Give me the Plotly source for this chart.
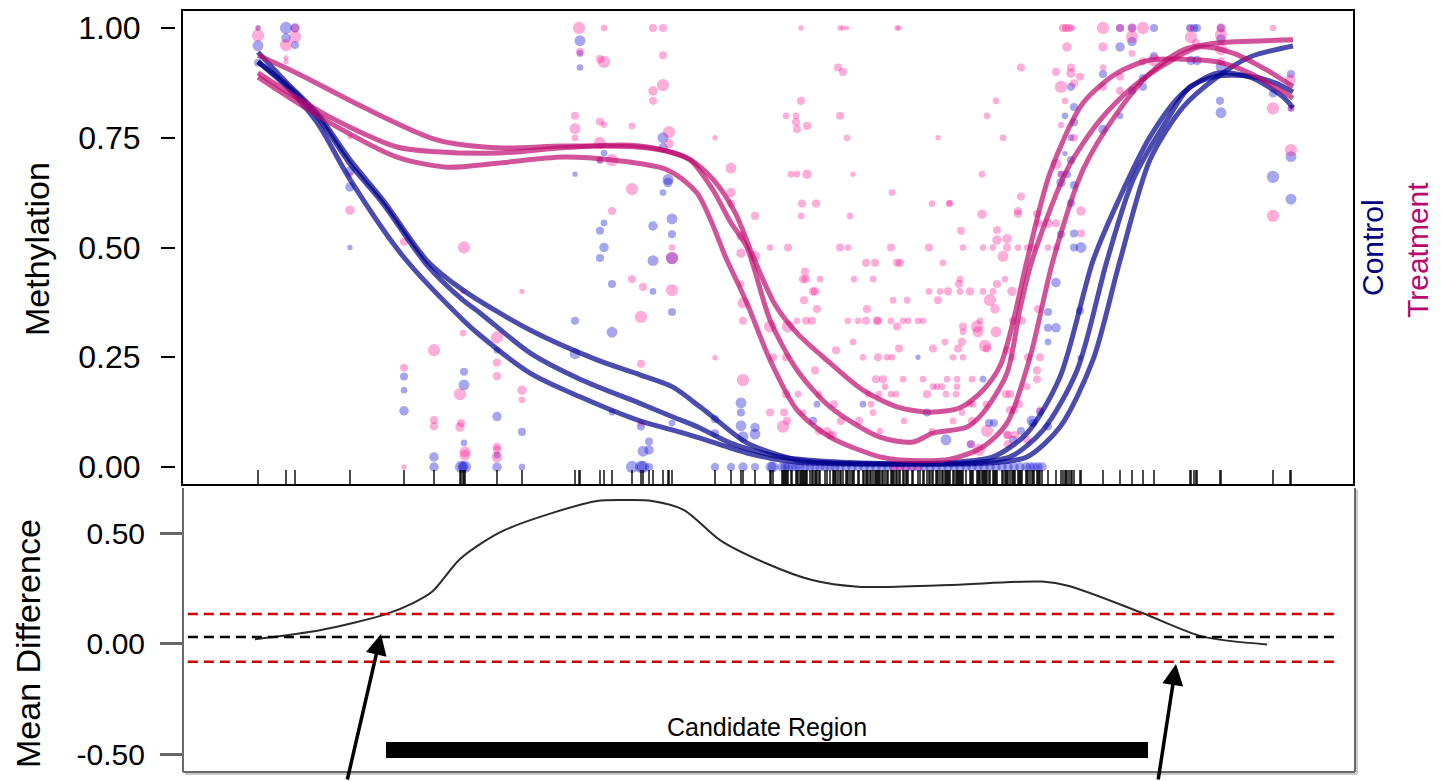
import plotly.graph_objects as go

W, H = 1441, 781

# ---------------- per-sample methylation calls (position, level, coverage) ----------------
ctrl_pos = [
    258, 258, 258, 286, 286, 295, 295, 350, 350, 350,
    404, 404, 404, 434, 434, 464, 464, 464, 461, 463, 465,
    497, 497, 497, 497, 522, 522,
    575, 575, 575, 580, 580, 580, 600, 604, 604, 600, 604, 600, 612, 612, 612,
    632, 641, 643, 649, 649, 641, 643, 649, 653, 653, 653,
    663, 663, 668, 668, 663, 672, 672, 672, 672, 672,
    715, 715, 715, 731, 741, 741, 741, 743, 743, 755, 755, 755, 771, 773,
    817, 863, 813, 927, 918, 946, 971, 983, 989, 994, 1013, 1021, 1032, 1033, 1040, 1048,
    1048, 1048, 1056, 1048, 1056, 1080, 1080,
    782, 785, 788, 792, 796, 800, 805, 810, 815, 820, 825, 830, 835, 840, 846, 852,
    858, 864, 870, 876, 882, 888, 894, 900, 906, 912, 918, 924, 930, 936, 942, 948,
    954, 960, 966, 972, 978, 984, 990, 996, 1002, 1008, 1014, 1020, 1026, 1030, 1034, 1038, 1042,
    1120, 1132, 1154, 1190, 1194, 1197, 1221, 1120, 1132, 1221, 1154, 1191, 1197, 1221,
    1103, 1143, 1291, 1071, 1132, 1143, 1074, 1220, 1273, 1221, 1065, 1120, 1074, 1103,
    1071, 1065, 1071, 1061, 1067, 1061, 1074, 1291, 1273, 1291, 1071, 1074, 1061, 1074, 1081, 1291,
]
ctrl_meth = [
    1.0, 0.96, 0.921, 1.0, 0.977, 1.0, 0.961, 0.674, 0.638, 0.5,
    0.206, 0.175, 0.128, 0.023, 0.0, 0.217, 0.187, 0.055, 0.0, 0.0, 0.0,
    0.266, 0.115, 0.027, 0.0, 0.08, 0.0,
    0.667, 0.333, 0.258, 0.971, 0.942, 0.91, 0.699, 0.715, 0.556, 0.538, 0.5, 0.476, 0.417, 0.307, 0.125,
    0.0, 0.092, 0.036, 0.058, 0.039, 0.0, 0.0, 0.0, 0.549, 0.47, 0.4,
    0.75, 0.727, 0.655, 0.648, 0.625, 0.565, 0.53, 0.476, 0.353, 0.1,
    0.109, 0.077, 0.0, 0.0, 0.146, 0.124, 0.094, 0.069, 0.0, 0.09, 0.075, 0.0, 0.0, 0.0,
    0.143, 0.143, 0.105, 0.124, 0.25, 0.062, 0.052, 0.2, 0.1, 0.1, 0.062, 0.082, 0.105, 0.1, 0.126, 0.092,
    0.353, 0.317, 0.317, 0.285, 0.42, 0.356, 0.249,
    0.0, 0.0, 0.0, 0.0, 0.0, 0.0, 0.0, 0.0, 0.0, 0.0, 0.0, 0.0, 0.0, 0.0, 0.0, 0.0,
    0.0, 0.0, 0.0, 0.0, 0.0, 0.0, 0.0, 0.0, 0.0, 0.0, 0.0, 0.0, 0.0, 0.0, 0.0, 0.0,
    0.0, 0.0, 0.0, 0.0, 0.0, 0.0, 0.0, 0.0, 0.0, 0.0, 0.0, 0.0, 0.0, 0.0, 0.0, 0.0, 0.0,
    1.0, 1.0, 1.0, 1.0, 1.0, 1.0, 1.0, 0.957, 0.969, 0.975, 0.936, 0.926, 0.926, 0.912,
    0.895, 0.886, 0.895, 0.866, 0.857, 0.866, 0.82, 0.834, 0.851, 0.807, 0.8, 0.8, 0.785, 0.769,
    0.75, 0.714, 0.699, 0.667, 0.667, 0.648, 0.642, 0.707, 0.661, 0.61, 0.601, 0.532, 0.53, 0.5, 0.5, 0.817,
]
ctrl_cov = [
    4, 12, 8, 14, 10, 10, 8, 10, 10, 4,
    8, 6, 10, 10, 10, 8, 12, 6, 14, 12, 14,
    6, 10, 6, 10, 8, 6,
    4, 8, 12, 12, 6, 6, 6, 6, 6, 8, 10, 8, 8, 12, 6,
    14, 8, 12, 8, 10, 14, 14, 8, 10, 12, 6,
    12, 10, 12, 10, 6, 12, 8, 14, 8, 6,
    8, 8, 8, 8, 12, 8, 12, 12, 10, 10, 12, 8, 12, 12,
    6, 6, 8, 8, 4, 12, 8, 6, 8, 8, 8, 8, 12, 8, 8, 8,
    8, 8, 10, 6, 10, 8, 4,
    10, 10, 10, 10, 10, 10, 10, 10, 10, 10, 10, 10, 10, 10, 10, 10,
    10, 10, 10, 10, 10, 10, 10, 10, 10, 10, 10, 10, 10, 10, 10, 10,
    10, 10, 10, 10, 10, 10, 10, 10, 10, 10, 10, 10, 10, 10, 10, 10, 10,
    8, 8, 8, 8, 8, 8, 8, 10, 10, 10, 8, 10, 10, 12,
    8, 8, 8, 8, 8, 8, 8, 8, 8, 12, 6, 6, 8, 10,
    6, 4, 8, 6, 8, 10, 8, 12, 14, 12, 8, 8, 8, 8, 12, 6,
]

trt_pos = [
    258, 258, 286, 286, 286, 295, 295, 350, 350, 350,
    404, 404, 404, 434, 434, 434,
    464, 463, 463, 460, 460, 461, 465, 465,
    497, 497, 497, 497, 497, 497, 522, 522, 522,
    579, 580, 575, 575, 575, 604, 600, 604, 600, 604, 600, 600, 612, 612,
    632, 632, 632, 643, 641, 641, 641,
    653, 663, 653, 653, 663, 663, 669, 669, 672, 672, 672,
    715, 715, 731, 731, 731, 741, 741, 741, 743, 743, 743, 755, 755, 770, 770, 770, 773,
    801, 840, 843, 847, 897, 899, 838, 843, 801, 786, 796, 840, 796, 797, 807, 847, 938,
    791, 797, 807, 853, 892, 802, 816, 932, 949, 801, 850,
    788, 840, 848, 891, 929, 963, 983, 993, 1007, 1018, 1027, 1033, 1048, 1056,
    1003, 866, 875, 897, 900, 943, 805,
    803, 806, 820, 854, 873, 960, 1005, 959, 997,
    813, 815, 929, 940, 948, 960, 970, 983, 993, 1012,
    804, 893, 907, 938, 990, 995, 817, 867, 1038,
    797, 806, 812, 848, 858, 866, 877, 878, 891, 903, 908, 918, 923, 980, 1013, 1022,
    788, 897, 963, 977, 963, 978, 996, 853, 945, 962, 985, 899, 933, 958, 987, 836, 1007,
    786, 863, 878, 887, 892, 953, 963, 1012, 1028, 1040, 815, 1037,
    876, 883, 903, 923, 947, 957, 972, 1037, 885, 933, 937, 942, 957, 1027,
    786, 798, 819, 868, 879, 891, 896, 927, 946, 956, 1006, 1010,
    834, 871, 970, 973, 986, 1019, 1010, 1014, 1040, 784, 803, 873, 962,
    787, 841, 859, 904, 953, 972, 783, 819, 827, 880, 932, 987,
    830, 833, 1007, 1008, 1015, 1027, 970, 1008, 979, 893, 900, 906, 913, 920,
    1063, 1066, 1069, 1072, 1103, 1120, 1132, 1143, 1190, 1221, 1273,
    1132, 1067, 1103, 1191, 1196, 1221, 1221, 1132, 1154, 1143, 1221,
    1021, 1056, 1071, 1071, 1080, 1074, 1103, 1120, 1290, 1061, 1103, 1120,
    996, 1065, 1273, 987, 1061, 1003, 1074, 1056, 982, 1061, 1291, 1273,
    1021, 950, 982, 1081, 1018, 1018, 1037, 1039, 1048, 1056, 961, 997, 1081, 997, 1007, 1291,
]
trt_meth = [
    1.0, 0.983, 0.961, 0.932, 0.923, 1.0, 0.98, 0.752, 0.585, 0.666,
    0.513, 0.226, 0.0, 0.266, 0.107, 0.093,
    0.5, 0.4, 0.305, 0.166, 0.091, 0.1, 0.035, 0.027,
    0.295, 0.238, 0.207, 0.046, 0.04, 0.023, 0.4, 0.175, 0.153,
    1.0, 0.946, 0.8, 0.771, 0.75, 1.0, 0.929, 0.923, 0.787, 0.78, 0.738, 0.699, 0.699, 0.583,
    0.777, 0.633, 0.428, 0.41, 0.342, 0.235, 0.1,
    1.0, 1.0, 0.857, 0.834, 0.938, 0.87, 0.763, 0.737, 0.5, 0.476, 0.403,
    0.75, 0.249, 0.681, 0.625, 0.6, 0.526, 0.487, 0.417, 0.374, 0.333, 0.198, 0.572, 0.48, 0.5, 0.32, 0.124, 0.25,
    1.0, 1.0, 1.0, 1.0, 1.0, 1.0, 0.91, 0.9, 0.834, 0.8, 0.8, 0.8, 0.786, 0.77, 0.777, 0.75, 0.75,
    0.667, 0.667, 0.667, 0.667, 0.625, 0.6, 0.6, 0.6, 0.6, 0.572, 0.572,
    0.5, 0.5, 0.5, 0.5, 0.5, 0.5, 0.5, 0.5, 0.5, 0.5, 0.5, 0.5, 0.5, 0.5,
    0.48, 0.465, 0.465, 0.465, 0.465, 0.465, 0.445,
    0.428, 0.428, 0.428, 0.428, 0.428, 0.428, 0.428, 0.417, 0.417,
    0.4, 0.4, 0.4, 0.4, 0.4, 0.4, 0.4, 0.4, 0.4, 0.4,
    0.38, 0.38, 0.38, 0.38, 0.38, 0.36, 0.36, 0.36, 0.36,
    0.333, 0.333, 0.333, 0.333, 0.333, 0.333, 0.333, 0.333, 0.333, 0.333, 0.333, 0.333, 0.333, 0.333, 0.333, 0.333,
    0.32, 0.32, 0.32, 0.32, 0.308, 0.308, 0.308, 0.285, 0.285, 0.285, 0.276, 0.27, 0.27, 0.27, 0.27, 0.266, 0.266,
    0.25, 0.25, 0.25, 0.25, 0.25, 0.25, 0.25, 0.25, 0.25, 0.25, 0.22, 0.22,
    0.2, 0.2, 0.2, 0.2, 0.2, 0.2, 0.2, 0.2, 0.183, 0.183, 0.183, 0.183, 0.183, 0.183,
    0.166, 0.166, 0.166, 0.166, 0.166, 0.166, 0.166, 0.166, 0.166, 0.166, 0.166, 0.166,
    0.143, 0.143, 0.143, 0.143, 0.143, 0.143, 0.13, 0.13, 0.13, 0.124, 0.124, 0.124, 0.124,
    0.105, 0.105, 0.105, 0.105, 0.105, 0.105, 0.092, 0.082, 0.082, 0.082, 0.082, 0.082,
    0.073, 0.073, 0.073, 0.073, 0.073, 0.062, 0.052, 0.052, 0.039, 0.0, 0.0, 0.0, 0.0, 0.0,
    1.0, 1.0, 1.0, 1.0, 1.0, 1.0, 1.0, 1.0, 1.0, 1.0, 1.0,
    0.98, 0.957, 0.957, 0.979, 0.966, 0.984, 0.952, 0.942, 0.926, 0.924, 0.924,
    0.91, 0.9, 0.91, 0.897, 0.889, 0.874, 0.91, 0.889, 0.882, 0.866, 0.866, 0.857,
    0.834, 0.834, 0.817, 0.8, 0.779, 0.75, 0.75, 0.69, 0.667, 0.667, 0.722, 0.572,
    0.616, 0.601, 0.576, 0.583, 0.583, 0.577, 0.577, 0.555, 0.555, 0.555, 0.538, 0.54, 0.532, 0.517, 0.52, 0.817,
]
trt_cov = [
    4, 14, 14, 4, 4, 8, 14, 4, 10, 4,
    8, 8, 4, 14, 8, 8,
    14, 4, 6, 14, 10, 8, 12, 12,
    14, 8, 8, 8, 8, 12, 4, 10, 6,
    14, 8, 8, 12, 6, 6, 8, 14, 8, 6, 14, 6, 14, 8,
    6, 14, 8, 8, 14, 8, 6,
    8, 8, 10, 8, 8, 14, 14, 10, 6, 14, 14,
    4, 4, 12, 10, 8, 10, 10, 6, 12, 8, 14, 8, 12, 6, 14, 8, 8,
    4, 4, 4, 3, 4, 4, 8, 8, 8, 6, 6, 8, 8, 8, 8, 6, 4,
    6, 6, 10, 4, 6, 8, 8, 6, 6, 6, 6,
    8, 8, 6, 8, 8, 6, 6, 6, 8, 6, 6, 8, 6, 6,
    12, 8, 8, 8, 8, 6, 8,
    8, 8, 6, 6, 6, 6, 6, 8, 8,
    8, 8, 6, 6, 8, 6, 8, 6, 6, 10,
    8, 6, 6, 8, 14, 10, 8, 8, 8,
    6, 8, 8, 6, 6, 8, 8, 8, 6, 6, 6, 6, 6, 6, 8, 8,
    14, 8, 8, 14, 6, 12, 12, 6, 6, 8, 14, 8, 8, 8, 8, 8, 8,
    8, 6, 8, 6, 6, 6, 6, 6, 8, 8, 8, 8,
    8, 8, 6, 6, 6, 6, 6, 8, 6, 6, 6, 6, 6, 6,
    8, 6, 6, 6, 6, 6, 6, 8, 6, 6, 8, 8,
    8, 6, 6, 6, 6, 8, 8, 8, 6, 8, 6, 6, 6,
    8, 8, 8, 6, 6, 8, 14, 8, 8, 6, 6, 14,
    8, 8, 8, 8, 8, 8, 6, 8, 14, 8, 8, 8, 8, 6,
    8, 8, 8, 6, 14, 8, 10, 14, 6, 10, 6,
    14, 10, 10, 14, 8, 14, 14, 6, 14, 8, 8,
    8, 8, 8, 10, 8, 8, 6, 8, 12, 14, 8, 8,
    6, 6, 14, 6, 6, 6, 8, 12, 6, 6, 14, 14,
    8, 6, 10, 10, 8, 8, 8, 8, 10, 8, 8, 8, 8, 10, 10, 6,
]

# ---------------- smoothed methylation profiles, one per sample ----------------
ctrl_fit_pos = [
    [258, 287, 317, 350, 383, 427, 463, 530, 597, 640, 673, 700, 713, 747, 797, 850, 900, 950, 993, 1027, 1060, 1093, 1117, 1150, 1183, 1217, 1250, 1283, 1293],
    [258, 287, 317, 350, 383, 427, 463, 480, 530, 580, 640, 673, 700, 730, 780, 850, 900, 960, 1010, 1043, 1077, 1107, 1133, 1167, 1190, 1217, 1250, 1275, 1293],
    [258, 287, 317, 350, 403, 463, 480, 530, 580, 640, 673, 700, 747, 797, 900, 990, 1027, 1060, 1093, 1120, 1150, 1183, 1217, 1250, 1293],
]
ctrl_fit_val = [
    [0.945, 0.875, 0.806, 0.70, 0.608, 0.47, 0.403, 0.312, 0.244, 0.21, 0.182, 0.137, 0.114, 0.055, 0.016, 0.008, 0.007, 0.01, 0.023, 0.077, 0.205, 0.47, 0.6, 0.752, 0.852, 0.897, 0.888, 0.843, 0.818],
    [0.923, 0.87, 0.80, 0.69, 0.60, 0.46, 0.38, 0.351, 0.26, 0.2, 0.145, 0.114, 0.089, 0.055, 0.023, 0.01, 0.007, 0.008, 0.023, 0.084, 0.22, 0.47, 0.654, 0.79, 0.866, 0.89, 0.89, 0.875, 0.854],
    [0.923, 0.865, 0.785, 0.655, 0.48, 0.335, 0.3, 0.214, 0.16, 0.105, 0.084, 0.066, 0.032, 0.011, 0.007, 0.009, 0.023, 0.091, 0.244, 0.47, 0.7, 0.82, 0.888, 0.934, 0.959],
]
trt_fit_pos = [
    [258, 297, 363, 437, 497, 563, 630, 665, 690, 713, 735, 753, 775, 797, 830, 863, 897, 930, 960, 983, 1000, 1013, 1027, 1050, 1083, 1117, 1150, 1183, 1217, 1250, 1293],
    [258, 330, 397, 437, 497, 563, 630, 667, 690, 713, 730, 747, 770, 797, 830, 880, 913, 933, 967, 983, 1007, 1020, 1032, 1067, 1100, 1133, 1167, 1200, 1233, 1267, 1293],
    [258, 330, 397, 447, 497, 563, 613, 667, 697, 727, 747, 770, 797, 830, 880, 900, 950, 983, 1007, 1030, 1053, 1083, 1117, 1150, 1183, 1217, 1250, 1293],
]
trt_fit_val = [
    [0.938, 0.897, 0.82, 0.745, 0.727, 0.731, 0.73, 0.72, 0.7, 0.655, 0.58, 0.48, 0.37, 0.305, 0.237, 0.175, 0.137, 0.125, 0.135, 0.175, 0.23, 0.33, 0.47, 0.67, 0.829, 0.897, 0.927, 0.929, 0.923, 0.897, 0.84],
    [0.898, 0.797, 0.729, 0.718, 0.715, 0.727, 0.733, 0.72, 0.7, 0.631, 0.56, 0.5, 0.335, 0.221, 0.137, 0.068, 0.057, 0.077, 0.091, 0.123, 0.214, 0.36, 0.47, 0.677, 0.79, 0.866, 0.92, 0.957, 0.943, 0.904, 0.866],
    [0.888, 0.784, 0.706, 0.683, 0.692, 0.706, 0.699, 0.677, 0.624, 0.471, 0.373, 0.244, 0.13, 0.068, 0.023, 0.016, 0.018, 0.046, 0.1, 0.25, 0.47, 0.677, 0.806, 0.897, 0.95, 0.966, 0.97, 0.973],
]

# ---------------- group mean difference and region call ----------------
diff_pos = [255, 321, 386, 413, 432, 459, 482, 505, 551, 597, 630, 652, 684, 720, 766, 812, 858, 950, 1042, 1069, 1143, 1203, 1267]
diff_val = [0.019, 0.061, 0.133, 0.183, 0.234, 0.378, 0.455, 0.514, 0.589, 0.645, 0.649, 0.645, 0.604, 0.468, 0.363, 0.287, 0.257, 0.265, 0.280, 0.260, 0.137, 0.031, -0.004]
diff_baseline = 0.029
diff_cutoffs = [0.133, -0.082]
region_start, region_end = 386, 1148
arrow_tips = [(381, 0.043), (1176, -0.093)]

CTRL_PT = "rgba(0,0,205,0.5)"
TRT_PT = "rgba(255,20,147,0.5)"
CTRL_LN = "rgba(0,0,140,0.7)"
TRT_LN = "rgba(190,10,110,0.7)"
FONT = "Liberation Sans, Arial, sans-serif"


def dot_size(cov):
    return [2.5 + 0.7 * c for c in cov]


fig = go.Figure()

fig.add_trace(go.Scatter(
    x=ctrl_pos, y=ctrl_meth, mode="markers", xaxis="x", yaxis="y",
    marker=dict(size=dot_size(ctrl_cov), color=CTRL_PT, line=dict(width=0)),
    showlegend=False, hoverinfo="skip"))
fig.add_trace(go.Scatter(
    x=trt_pos, y=trt_meth, mode="markers", xaxis="x", yaxis="y",
    marker=dict(size=dot_size(trt_cov), color=TRT_PT, line=dict(width=0)),
    showlegend=False, hoverinfo="skip"))

for xs, ys in zip(ctrl_fit_pos, ctrl_fit_val):
    fig.add_trace(go.Scatter(x=xs, y=ys, mode="lines", xaxis="x", yaxis="y",
                             line=dict(color=CTRL_LN, width=5, shape="spline", smoothing=0.8),
                             showlegend=False, hoverinfo="skip"))
for xs, ys in zip(trt_fit_pos, trt_fit_val):
    fig.add_trace(go.Scatter(x=xs, y=ys, mode="lines", xaxis="x", yaxis="y",
                             line=dict(color=TRT_LN, width=5, shape="spline", smoothing=0.8),
                             showlegend=False, hoverinfo="skip"))

# rug of CpG sites along the bottom of the methylation panel
cpg_sites = sorted(set(ctrl_pos) | set(trt_pos))
rug_x, rug_y = [], []
for p in cpg_sites:
    rug_x += [p, p, None]
    rug_y += [-0.041, -0.007, None]
fig.add_trace(go.Scatter(x=rug_x, y=rug_y, mode="lines", xaxis="x", yaxis="y",
                         line=dict(color="black", width=1.4), showlegend=False, hoverinfo="skip"))

# mean difference curve
fig.add_trace(go.Scatter(x=diff_pos, y=diff_val, mode="lines", xaxis="x2", yaxis="y2",
                         line=dict(color="#2b2b2b", width=2, shape="spline", smoothing=0.8),
                         showlegend=False, hoverinfo="skip"))

xdom = [182 / W, 1354 / W]
shapes = [
    dict(type="rect", xref="x domain", yref="y domain", x0=0, x1=1, y0=0, y1=1,
         line=dict(color="black", width=2)),
    # lower panel frame with soft shadow
    dict(type="line", xref="paper", yref="paper", x0=1357 / W, x1=1357 / W, y0=1 - 774 / H, y1=1 - 490 / H,
         line=dict(color="#c8c8c8", width=2)),
    dict(type="line", xref="paper", yref="paper", x0=185 / W, x1=1357 / W, y0=1 - 774 / H, y1=1 - 774 / H,
         line=dict(color="#c8c8c8", width=2)),
    dict(type="line", xref="paper", yref="paper", x0=1355 / W, x1=1355 / W, y0=1 - 772 / H, y1=1 - 488 / H,
         line=dict(color="#6a6a6a", width=2)),
    dict(type="line", xref="paper", yref="paper", x0=183 / W, x1=1355 / W, y0=1 - 772 / H, y1=1 - 772 / H,
         line=dict(color="#6a6a6a", width=2)),
    dict(type="line", xref="x2 domain", yref="y2", x0=0.005, x1=0.988, y0=diff_baseline, y1=diff_baseline,
         line=dict(color="black", width=2.5, dash="10px,6px")),
    dict(type="rect", xref="x2", yref="y2", x0=region_start, x1=region_end, y0=-0.518, y1=-0.446,
         fillcolor="black", line=dict(width=0)),
]
for c in diff_cutoffs:
    shapes.append(dict(type="line", xref="x2 domain", yref="y2", x0=0.005, x1=0.988, y0=c, y1=c,
                       line=dict(color="#cc0000", width=2.5, dash="10px,6px")))

annotations = [
    dict(text="Methylation", xref="paper", yref="paper", x=37 / W, y=1 - 249 / H, textangle=-90,
         showarrow=False, font=dict(family=FONT, size=34, color="black"), xanchor="center", yanchor="middle"),
    dict(text="Mean Difference", xref="paper", yref="paper", x=28 / W, y=1 - 644 / H, textangle=-90,
         showarrow=False, font=dict(family=FONT, size=34, color="black"), xanchor="center", yanchor="middle"),
    dict(text="Control", xref="paper", yref="paper", x=1373 / W, y=1 - 248 / H, textangle=-90,
         showarrow=False, font=dict(family=FONT, size=30, color="#000080"), xanchor="center", yanchor="middle"),
    dict(text="Treatment", xref="paper", yref="paper", x=1417 / W, y=1 - 250 / H, textangle=-90,
         showarrow=False, font=dict(family=FONT, size=30, color="#b80a6e"), xanchor="center", yanchor="middle"),
    dict(text="Candidate Region", xref="x2", yref="y2", x=(region_start + region_end) / 2, y=-0.378,
         showarrow=False, font=dict(family=FONT, size=25, color="black"), xanchor="center", yanchor="middle"),
]
for (tx, ty), (ax, ay) in zip(arrow_tips, [(-34, 156), (-18, 122)]):
    annotations.append(dict(text="", xref="x2", yref="y2", x=tx, y=ty, ax=ax, ay=ay,
                            showarrow=True, arrowhead=2, arrowsize=1.2, arrowwidth=3.5, arrowcolor="black"))

fig.update_layout(
    width=W, height=H, margin=dict(l=0, r=0, t=0, b=0),
    paper_bgcolor="white", plot_bgcolor="white", showlegend=False,
    xaxis=dict(domain=xdom, range=[182, 1354], anchor="y", showticklabels=False, ticks="",
               showgrid=False, zeroline=False, showline=False),
    yaxis=dict(domain=[1 - 485 / H, 1 - 10 / H], range=[-0.041, 1.041], anchor="free", position=175 / W,
               tickvals=[0, 0.25, 0.5, 0.75, 1.0], ticktext=["0.00", "0.25", "0.50", "0.75", "1.00"],
               ticks="outside", ticklen=14, tickwidth=2, tickcolor="black", ticklabelstandoff=14,
               tickfont=dict(family=FONT, size=32, color="black"),
               showgrid=False, zeroline=False, showline=False),
    xaxis2=dict(domain=xdom, range=[182, 1354], anchor="y2", showticklabels=False, ticks="",
                showgrid=False, zeroline=False, showline=False),
    yaxis2=dict(domain=[1 - 772 / H, 1 - 488 / H], range=[-0.5814, 0.7036], anchor="free", position=183 / W,
                tickvals=[-0.5, 0, 0.5], ticktext=["-0.50", "0.00", "0.50"],
                ticks="outside", ticklen=22, tickwidth=2.5, tickcolor="#666666", ticklabelstandoff=9,
                tickfont=dict(family=FONT, size=30, color="black"),
                showline=True, linecolor="#6a6a6a", linewidth=2,
                showgrid=False, zeroline=False),
    shapes=shapes, annotations=annotations,
)

fig.write_html("out.html")
